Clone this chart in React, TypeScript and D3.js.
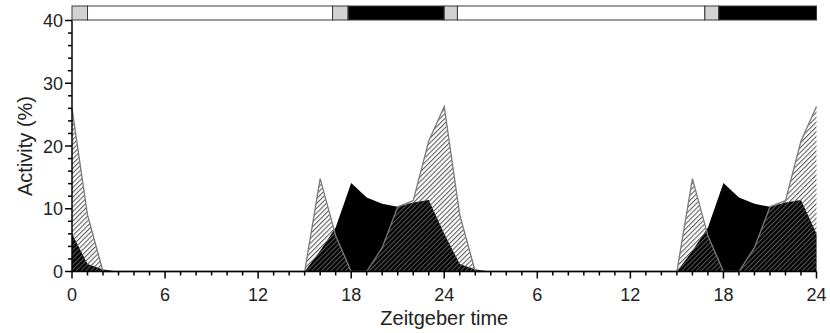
import React from "react";
import * as d3 from "d3";

// hourly activity (%), double plotted over two days (ZT 0..48)
const hours = d3.range(0, 49);
const hatchedSeries = [
  26, 9, 0, 0, 0, 0, 0, 0, 0, 0, 0, 0, 0, 0, 0, 0, 14.8, 5.7, 0, 0, 3.8, 10.3, 11.3, 20.8,
  26.3, 9, 0, 0, 0, 0, 0, 0, 0, 0, 0, 0, 0, 0, 0, 0, 14.8, 5.7, 0, 0, 3.8, 10.3, 11.3, 20.8,
  26.3,
];
const blackSeries = [
  6, 1.2, 0.3, 0, 0, 0, 0, 0, 0, 0, 0, 0, 0, 0, 0, 0, 3.3, 7, 14.1, 11.8, 10.8, 10.3, 11, 11.4,
  6, 1.2, 0.3, 0, 0, 0, 0, 0, 0, 0, 0, 0, 0, 0, 0, 0, 3.3, 7, 14.1, 11.8, 10.8, 10.3, 11, 11.4,
  6,
];

// light regime bar: [start, end, kind]
const lightBar: [number, number, string][] = [
  [0, 1, "twilight"],
  [1, 16.8, "light"],
  [16.8, 17.8, "twilight"],
  [17.8, 24, "dark"],
  [24, 24.85, "twilight"],
  [24.85, 40.8, "light"],
  [40.8, 41.7, "twilight"],
  [41.7, 48, "dark"],
];

const xTickValues = [0, 6, 12, 18, 24, 30, 36, 42, 48];
const xTickLabels = ["0", "6", "12", "18", "24", "6", "12", "18", "24"];
const yTickValues = [0, 10, 20, 30, 40];

const W = 830;
const H = 333;

export default function App() {
  const x = d3.scaleLinear().domain([0, 48]).range([72, 816.5]);
  const y = d3.scaleLinear().domain([0, 40]).range([271.5, 20.5]);

  const area = (vals: number[]) =>
    d3
      .area<number>()
      .x((h) => x(h))
      .y0(y(0))
      .y1((h) => y(vals[h]))(hours) as string;
  const line = (vals: number[]) =>
    d3
      .line<number>()
      .x((h) => x(h))
      .y((h) => y(vals[h]))(hours) as string;

  const fills: Record<string, string> = {
    twilight: "#d3d3d3",
    light: "#ffffff",
    dark: "#000000",
  };
  const font = "Arial, 'Liberation Sans', sans-serif";

  return (
    <svg
      width={W}
      height={H}
      style={{ position: "absolute", left: 0, top: 0, background: "#fff" }}
      fontFamily={font}
    >
      <defs>
        <pattern
          id="hatch"
          patternUnits="userSpaceOnUse"
          width={3.4}
          height={3.4}
          patternTransform="rotate(45)"
        >
          <line x1={0.5} y1={0} x2={0.5} y2={3.4} stroke="#5a5a5a" strokeWidth={1.1} />
        </pattern>
      </defs>

      {/* activity */}
      <path d={area(blackSeries)} fill="#000" />
      <path d={area(hatchedSeries)} fill="url(#hatch)" />
      <path d={line(hatchedSeries)} fill="none" stroke="#7a7a7a" strokeWidth={1.3} />

      {/* light bar */}
      {lightBar.map(([s, e, k], i) => (
        <rect
          key={i}
          x={x(s)}
          y={6}
          width={x(e) - x(s)}
          height={14}
          fill={fills[k]}
          stroke="#3a3a3a"
          strokeWidth={1}
        />
      ))}

      {/* y axis */}
      <line x1={72} x2={72} y1={y(40)} y2={y(0)} stroke="#000" strokeWidth={1.5} />
      {d3.range(0, 41, 2).map((v) => (
        <line
          key={v}
          x1={v % 10 === 0 ? 65 : 68}
          x2={72}
          y1={y(v)}
          y2={y(v)}
          stroke="#000"
          strokeWidth={1.5}
        />
      ))}
      {yTickValues.map((v) => (
        <text key={v} x={63} y={y(v) + 6.5} textAnchor="end" fontSize={18} fill="#222">
          {v}
        </text>
      ))}
      <text
        transform={`translate(32,${(y(0) + y(40)) / 2}) rotate(-90)`}
        textAnchor="middle"
        fontSize={20}
        fill="#222"
      >
        Activity (%)
      </text>

      {/* x axis */}
      <line x1={x(0)} x2={x(48)} y1={y(0)} y2={y(0)} stroke="#000" strokeWidth={1.5} />
      {hours.map((h) => (
        <line
          key={h}
          x1={x(h)}
          x2={x(h)}
          y1={y(0)}
          y2={y(0) + (h % 6 === 0 ? 7 : 4)}
          stroke="#000"
          strokeWidth={1.5}
        />
      ))}
      {xTickValues.map((h, i) => (
        <text key={h} x={x(h)} y={301} textAnchor="middle" fontSize={18} fill="#222">
          {xTickLabels[i]}
        </text>
      ))}
      <text x={(x(0) + x(48)) / 2} y={325} textAnchor="middle" fontSize={20} fill="#222">
        Zeitgeber time
      </text>
    </svg>
  );
}
